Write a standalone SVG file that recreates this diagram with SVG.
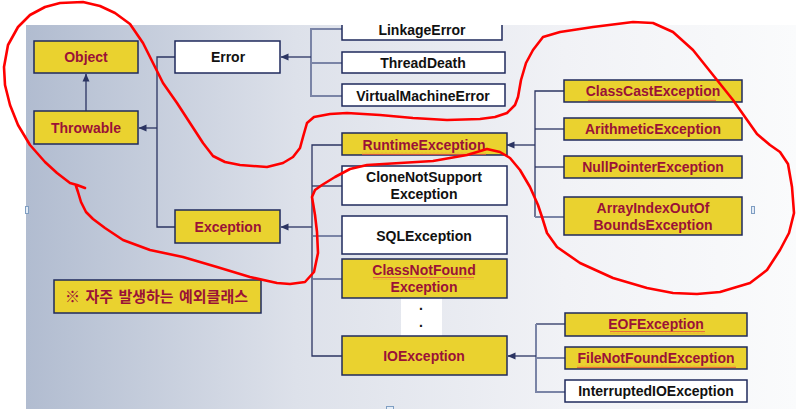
<svg xmlns="http://www.w3.org/2000/svg" width="796" height="409" viewBox="0 0 796 409">
<defs>
<linearGradient id="bg" x1="0" y1="0" x2="1" y2="0">
<stop offset="0" stop-color="#b1bcd0"/>
<stop offset="0.35" stop-color="#dde1ea"/>
<stop offset="0.7" stop-color="#f1f2f6"/>
<stop offset="1" stop-color="#fafbfc"/>
</linearGradient>
<marker id="arr" viewBox="0 0 8 8" refX="7.5" refY="4" markerWidth="8" markerHeight="8" markerUnits="userSpaceOnUse" orient="auto">
<path d="M0,0.5 L8,4 L0,7.5 z" fill="#2b3462"/>
</marker>
<pattern id="sq" width="4" height="3" patternUnits="userSpaceOnUse">
<path d="M0,2.2 L1,0.8 L2,2.2 L3,0.8 L4,2.2" fill="none" stroke="#e8553e" stroke-width="0.8"/>
</pattern>
<style>
.by{fill:#ead22f;stroke:#1f2a5c;stroke-width:1.5}
.bw{fill:#ffffff;stroke:#1f2a5c;stroke-width:1.5}
.tr{fill:#9a1237;font-family:"Liberation Sans",Arial,sans-serif;font-weight:bold;font-size:14px;text-anchor:middle}
.tk{fill:#111111;font-family:"Liberation Sans",Arial,sans-serif;font-weight:bold;font-size:14px;text-anchor:middle}
.ko{fill:#9a1237;font-family:"Noto Sans CJK KR","Liberation Sans",sans-serif;font-weight:bold;font-size:15px;word-spacing:2px}
.c{fill:none;stroke:#2b3462;stroke-width:1.3}
.g{fill:none;stroke:#7a84a6;stroke-width:2}
.sq{fill:url(#sq)}
.hd{fill:#e3ecf7;stroke:#7f9ec2;stroke-width:1}
.red{fill:none;stroke:#ff0000;stroke-width:2.6;stroke-linejoin:round;stroke-linecap:round}
</style>
</defs>

<rect x="0" y="0" width="796" height="409" fill="#ffffff"/>
<rect x="26" y="25" width="770" height="384" fill="url(#bg)"/>
<rect x="401" y="298" width="41" height="38" fill="#ffffff"/>

<g id="connectors">
<path class="c" d="M86,111 V74" marker-end="url(#arr)"/>
<path class="c" d="M175,57 H157 V227 H175"/>
<path class="c" d="M157,128 H139" marker-end="url(#arr)"/>
<path class="g" d="M342,29 H311 V96 H342"/>
<path class="g" d="M342,63 H311"/>
<path class="c" d="M311,57 H281" marker-end="url(#arr)"/>
<path class="c" d="M342,145 H312 V356 H342"/>
<path class="c" d="M342,186 H312"/>
<path class="g" d="M342,236 H313"/>
<path class="g" d="M342,279 H313"/>
<path class="c" d="M312,227 H281" marker-end="url(#arr)"/>
<path class="c" d="M564,91 H535 V217"/>
<path class="g" d="M564,217 H535"/>
<path class="c" d="M564,129 H535"/>
<path class="c" d="M564,167 H535"/>
<path class="c" d="M535,145 H507" marker-end="url(#arr)"/>
<path class="c" d="M565,324 H536"/>
<path class="g" d="M536,324 V392 H565"/>
<path class="g" d="M565,358 H536"/>
<path class="c" d="M536,356 H508" marker-end="url(#arr)"/>
</g>

<g id="object"><rect class="by" x="34" y="41" width="104" height="32"/><text class="tr" x="86" y="62">Object</text></g>
<g id="throwable"><rect class="by" x="34" y="111" width="104" height="33"/><text class="tr" x="86" y="133">Throwable</text></g>
<g id="error"><rect class="bw" x="175" y="41" width="105" height="32"/><text class="tk" x="228" y="62">Error</text></g>
<g id="exception"><rect class="by" x="175" y="210" width="105" height="33"/><text class="tr" x="228" y="232">Exception</text></g>

<g id="linkageerror"><path class="bw" d="M342,25 V40 H502 V25"/><text class="tk" x="422" y="35">LinkageError</text></g>
<g id="threaddeath"><rect class="bw" x="342" y="52" width="163" height="21"/><text class="tk" x="423" y="68">ThreadDeath</text></g>
<g id="virtualmachineerror"><rect class="bw" x="342" y="84" width="163" height="22"/><text class="tk" x="423" y="101">VirtualMachineError</text></g>

<g id="runtimeexception"><rect class="by" x="342" y="133" width="165" height="22"/><text class="tr" x="424" y="150">RuntimeException</text><rect class="sq" x="362" y="152" width="124" height="3"/></g>
<g id="clonenotsupportexception"><rect class="bw" x="342" y="166" width="165" height="39"/><text class="tk" x="424" y="182">CloneNotSupport</text><text class="tk" x="424" y="199">Exception</text></g>
<g id="sqlexception"><rect class="bw" x="342" y="216" width="165" height="38"/><text class="tk" x="424" y="241">SQLException</text></g>
<g id="classnotfoundexception"><rect class="by" x="342" y="259" width="165" height="39"/><text class="tr" x="424" y="275">ClassNotFound</text><rect class="sq" x="373" y="277" width="101" height="3"/><text class="tr" x="424" y="292">Exception</text></g>
<g id="dots"><text class="tk" x="421" y="310">.</text><text class="tk" x="421" y="327">.</text></g>
<g id="ioexception"><rect class="by" x="342" y="336" width="165" height="39"/><text class="tr" x="424" y="361">IOException</text></g>

<g id="classcastexception"><rect class="by" x="564" y="80" width="178" height="22"/><text class="tr" x="653" y="96">ClassCastException</text><rect class="sq" x="588" y="98" width="128" height="3"/></g>
<g id="arithmeticexception"><rect class="by" x="564" y="118" width="178" height="22"/><text class="tr" x="653" y="134">ArithmeticException</text></g>
<g id="nullpointerexception"><rect class="by" x="564" y="156" width="178" height="22"/><text class="tr" x="653" y="172">NullPointerException</text></g>
<g id="arrayindexoutofboundsexception"><rect class="by" x="564" y="197" width="178" height="38"/><text class="tr" x="653" y="213">ArrayIndexOutOf</text><text class="tr" x="653" y="230">BoundsException</text></g>

<g id="eofexception"><rect class="by" x="565" y="313" width="182" height="23"/><text class="tr" x="656" y="329">EOFException</text><rect class="sq" x="610" y="331" width="95" height="3"/></g>
<g id="filenotfoundexception"><rect class="by" x="565" y="347" width="182" height="22"/><text class="tr" x="656" y="363">FileNotFoundException</text><rect class="sq" x="577" y="365" width="159" height="3"/></g>
<g id="interruptedioexception"><rect class="bw" x="565" y="380" width="182" height="22"/><text class="tk" x="656" y="396">InterruptedIOException</text></g>

<g id="note"><rect class="by" x="54" y="280" width="207" height="33"/><text class="ko" x="65" y="302">※ 자주 발생하는 예외클래스</text></g>

<g id="handles">
<rect class="hd" x="25.5" y="206.5" width="3" height="7"/>
<rect class="hd" x="751.5" y="206.5" width="3" height="7"/>
<rect class="hd" x="386.5" y="406.5" width="7" height="3"/>
</g>

<g id="scribble">
<path class="red" d="M85,188 L77,185 L70,183 L57,173 L45,162 L30,145 L18,125 L10,105 L5,85 L4,67 L8,45 L18,27 L30,15 L45,7 L60,3 L83,2 L100,6 L115,13 L130,24 L143,43 L153,63 L163,83 L177,103 L190,123 L203,143 L213,156 L225,162 L240,165 L267,167 L283,163 L293,157 L300,148 L303,137 L307,123 L314,117 L330,114 L347,113 L380,115 L413,118 L447,120 L480,119 L495,117 L507,113 L515,105 L518,97 L521,80 L526,63 L533,50 L543,37 L560,32 L593,27 L633,22 L653,23 L673,32 L693,50 L713,75 L733,100 L757,134 L770,145 L780,152 L788,164 L792,187 L794,213 L789,233 L780,250 L767,270 L750,283 L720,292 L697,294 L673,293 L647,288 L613,278 L580,263 L557,247 L547,233 L542,217 L538,205 L530,187 L520,170 L510,158 L500,152 L487,149 L467,155 L433,161 L400,163 L367,165 L350,169 L335,177 L322,185 L315,190 L312,197 L315,215 L317,232 L318,253 L314,272 L305,282 L290,284 L277,283 L250,277 L217,267 L183,257 L150,250 L123,240 L105,228 L93,219 L86,212 L81,202 L78,192 L76,186"/>
</g>
</svg>
